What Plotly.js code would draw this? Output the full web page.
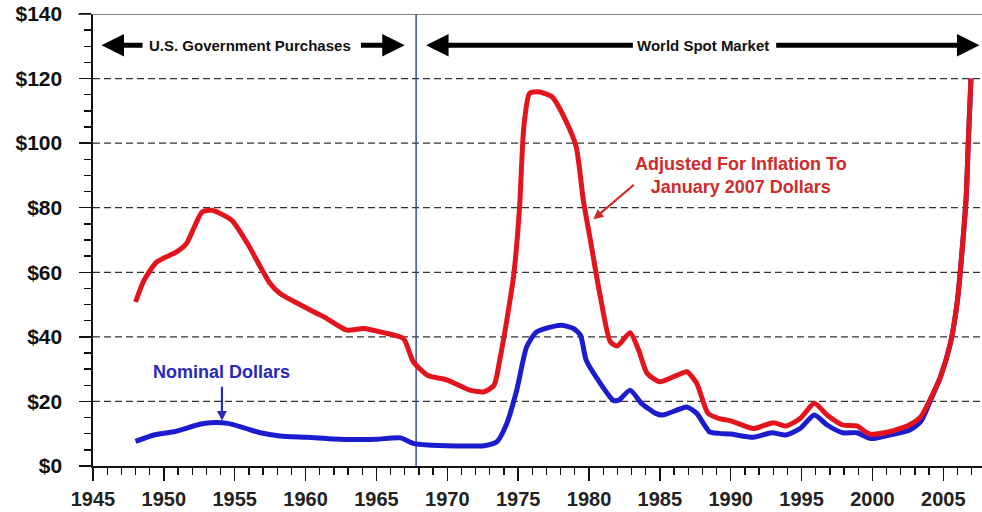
<!DOCTYPE html>
<html>
<head>
<meta charset="utf-8">
<script src="https://cdn.plot.ly/plotly-3.0.1.min.js"></script>
<style>html,body{margin:0;padding:0;background:#fff;}#chart{width:982px;height:512px;}</style>
</head>
<body>
<div id="chart"></div>
<script>
// Inflation-adjusted price (January 2007 dollars)
const realYears = [1948, 1948.6, 1949.5, 1950.9, 1951.6, 1952.7, 1953.4, 1954.8, 1955.9, 1957.5, 1958.2, 1960.6, 1961.3, 1962.9, 1964.1, 1965.5, 1966.9, 1967.6, 1968.6, 1970, 1971.6, 1972.6, 1973.3, 1973.7, 1974.2, 1974.7, 1975.1, 1975.4, 1975.8, 1976.4, 1977.4, 1978.4, 1979.1, 1979.6, 1980.1, 1980.8, 1981.5, 1982.0, 1982.9, 1983.5, 1984.1, 1985.0, 1986.2, 1986.9, 1987.6, 1988.4, 1989.2, 1990.0, 1991.6, 1993.0, 1993.9, 1994.9, 1995.9, 1996.8, 1997.9, 1998.9, 1999.8, 2001.2, 2002.6, 2003.4, 2004.1, 2004.8, 2005.5, 2006.0, 2006.6, 2006.76, 2006.95];
const realPrice = [50.8, 57.5, 63.2, 66.3, 68.9, 78.7, 79.2, 76.1, 68.9, 56.5, 53.4, 47.7, 46.2, 42.1, 42.6, 41.3, 39.5, 32.3, 28.1, 26.6, 23.5, 23.0, 25.0, 32.8, 45.2, 59.6, 80.2, 105, 115.4, 115.9, 114.3, 106.6, 98.8, 82.3, 69.9, 52.4, 38.5, 37.2, 41.3, 35.9, 28.7, 26.1, 28.1, 29.2, 25.6, 16.3, 14.7, 14.0, 11.6, 13.4, 12.4, 14.7, 19.4, 15.8, 12.7, 12.4, 9.9, 10.6, 12.7, 15.2, 20.9, 27.6, 38, 51.4, 82.3, 99.9, 120];

// Nominal price
const nomYears = [1948, 1949.3, 1950.7, 1952.6, 1953.3, 1954.5, 1955.6, 1956.8, 1958.2, 1960.1, 1962.9, 1965, 1966.7, 1967.6, 1968.6, 1972.6, 1973.5, 1974.2, 1974.9, 1975.6, 1976.3, 1978.0, 1978.9, 1979.4, 1979.8, 1980.8, 1981.7, 1982.1, 1982.9, 1983.7, 1984.7, 1985.2, 1986.2, 1986.9, 1987.6, 1988.5, 1989.2, 1990.0, 1991.6, 1992.9, 1993.9, 1994.9, 1995.9, 1996.8, 1997.9, 1998.9, 1999.9, 2001.2, 2002.6, 2003.4, 2004.1, 2004.8, 2005.5, 2006.0, 2006.6, 2006.76, 2006.95];
const nomPrice = [7.6, 9.6, 10.6, 13.0, 13.4, 13.2, 11.9, 10.3, 9.3, 8.9, 8.2, 8.3, 8.7, 7.0, 6.5, 6.3, 7.5, 13.2, 23.5, 36.9, 41.5, 43.6, 42.6, 40.5, 32.8, 25.6, 20.4, 20.4, 23.5, 19.4, 16.3, 15.8, 17.3, 18.3, 16.3, 10.6, 10.1, 9.9, 8.9, 10.3, 9.6, 11.6, 15.8, 12.7, 10.3, 10.3, 8.5, 9.6, 11.1, 13.7, 20.4, 27.6, 38, 51.4, 82.3, 99.9, 120];

const yTickVals = [0, 20, 40, 60, 80, 100, 120, 140];
const yTickText = ['$0', '$20', '$40', '$60', '$80', '$100', '$120', '$140'];
const xTickVals = [1945, 1950, 1955, 1960, 1965, 1970, 1975, 1980, 1985, 1990, 1995, 2000, 2005];
const xTickText = ['1945', '1950', '1955', '1960', '1965', '1970', '1975', '1980', '1985', '1990', '1995', '2000', '2005'];
const eraSplitYear = 1967.8;

const traces = [
  {x: nomYears, y: nomPrice, type: 'scatter', mode: 'lines',
   line: {color: '#1c1ccf', width: 5, shape: 'spline', smoothing: 0.6}, hoverinfo: 'skip'},
  {x: realYears, y: realPrice, type: 'scatter', mode: 'lines',
   line: {color: '#e3141c', width: 5, shape: 'spline', smoothing: 0.6}, hoverinfo: 'skip'}
];

const gridShapes = [20, 40, 60, 80, 100, 120].map(v => ({
  type: 'line', xref: 'paper', x0: 0, x1: 1, yref: 'y', y0: v, y1: v,
  line: {color: '#333', width: 1.3, dash: '7px,4px'}, layer: 'below'
}));

const shapes = gridShapes.concat([
  {type: 'line', xref: 'x', x0: eraSplitYear, x1: eraSplitYear, yref: 'y', y0: 0, y1: 140,
   line: {color: '#3b4a9c', width: 1.5}, layer: 'below'},
  {type: 'line', xref: 'paper', x0: -0.017, x1: 1, yref: 'y', y0: 140, y1: 140,
   line: {color: '#555', width: 1.6}}
]);

const hdrFont = {family: 'Liberation Sans, Arial, sans-serif', size: 15, color: '#111'};
const arrowY = 130.3;
function arrow(tail, head, color, w, yT, yH) {
  return {x: head, y: yH === undefined ? arrowY : yH, xref: 'x', yref: 'y',
    ax: tail, ay: yT === undefined ? arrowY : yT, axref: 'x', ayref: 'y',
    text: '', showarrow: true, arrowhead: 2, arrowsize: 0.9, arrowwidth: w, arrowcolor: color};
}

const annotations = [
  {x: 1956.06, y: arrowY, xref: 'x', yref: 'y', text: '<b>U.S. Government Purchases</b>', showarrow: false, font: hdrFont},
  {x: 1988.03, y: arrowY, xref: 'x', yref: 'y', text: '<b>World Spot Market</b>', showarrow: false, font: hdrFont},
  arrow(1948.6, 1945.6, '#000', 5),
  arrow(1963.8, 1967.0, '#000', 5),
  arrow(1983.2, 1968.5, '#000', 5),
  arrow(1993.1, 2007.55, '#000', 5),
  {x: 1990.7, y: 90.1, xref: 'x', yref: 'y', text: '<b>Adjusted For Inflation To<br>January 2007 Dollars</b>', showarrow: false,
   font: {family: 'Liberation Sans, Arial, sans-serif', size: 18, color: '#d02a2a'}},
  arrow(1983.27, 1980.31, '#d02a2a', 2.2, 87.5, 76.4),
  {x: 1954.07, y: 29.2, xref: 'x', yref: 'y', text: '<b>Nominal Dollars</b>', showarrow: false,
   font: {family: 'Liberation Sans, Arial, sans-serif', size: 18, color: '#2a2ab8'}},
  arrow(1954.1, 1954.1, '#2a2ab8', 2.2, 25.0, 14.0)
];

const layout = {
  width: 982, height: 512,
  margin: {l: 93, r: 0, t: 14, b: 46, pad: 0},
  paper_bgcolor: '#fff', plot_bgcolor: '#fff',
  showlegend: false,
  xaxis: {
    range: [1945, 2007.73], showgrid: false, zeroline: false,
    showline: true, linecolor: '#111', linewidth: 1.6,
    tickvals: xTickVals, ticktext: xTickText,
    ticks: 'outside', ticklen: 13, tickwidth: 1.5, tickcolor: '#111',
    minor: {dtick: 1, tick0: 1945, ticks: 'outside', ticklen: 7, tickwidth: 1.3, tickcolor: '#111', showgrid: false},
    tickfont: {family: 'Liberation Sans, Arial, sans-serif', size: 20, color: '#222', weight: 'bold'},
    ticklabelstandoff: 1
  },
  yaxis: {
    range: [0, 140], showgrid: false, zeroline: false,
    showline: true, linecolor: '#111', linewidth: 1.6,
    tickvals: yTickVals, ticktext: yTickText,
    ticks: 'outside', ticklen: 12, tickwidth: 1.5, tickcolor: '#111',
    minor: {dtick: 5, tick0: 0, ticks: 'outside', ticklen: 7, tickwidth: 1.3, tickcolor: '#111', showgrid: false},
    tickfont: {family: 'Liberation Sans, Arial, sans-serif', size: 21, color: '#111', weight: 'bold'},
    ticklabelstandoff: 13
  },
  shapes: shapes,
  annotations: annotations
};

Plotly.newPlot('chart', traces, layout, {staticPlot: true, displayModeBar: false});
</script>
</body>
</html>
